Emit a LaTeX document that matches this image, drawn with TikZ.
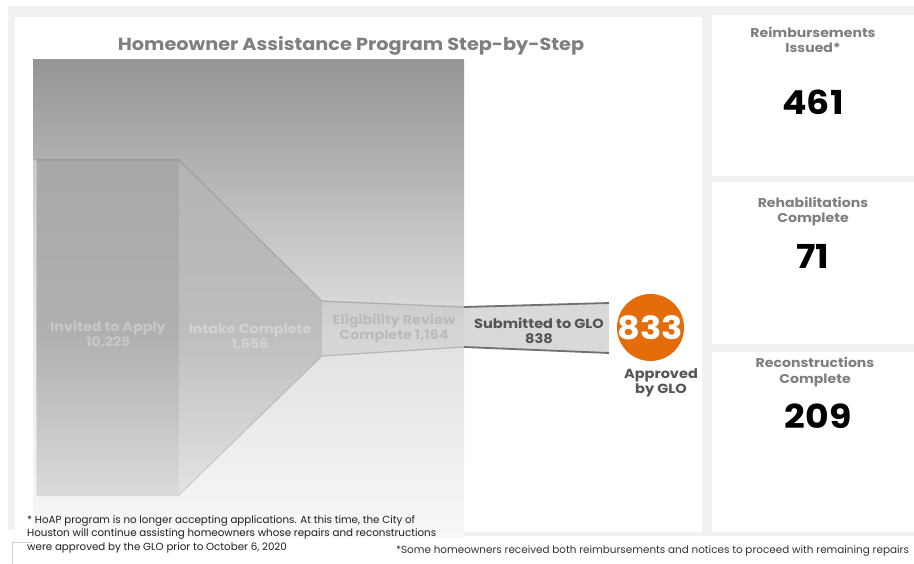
\documentclass[tikz,border=0pt]{standalone}
\usepackage{fontspec}
\setmainfont{Poppins}
\newfontfamily\wfont{Poppins}[FakeStretch=1.1]
\usetikzlibrary{calc}
\definecolor{bggray}{HTML}{F1F1F1}
\definecolor{gtop}{HTML}{959595}
\definecolor{gmid}{HTML}{E0E0E0}
\definecolor{gbot}{HTML}{F8F8F8}
\definecolor{labgray}{HTML}{7F7F7F}
\definecolor{darklab}{HTML}{555555}
\definecolor{orng}{HTML}{E46C0A}
\definecolor{segfill}{HTML}{D9D9D9}
\definecolor{segline}{HTML}{707070}
\definecolor{bxatop}{HTML}{A8A8A8}
\definecolor{bxamid}{HTML}{B0B0B0}
\definecolor{bxabot}{HTML}{DADADA}
\definecolor{bxbtop}{HTML}{B4B4B4}
\definecolor{bxbmid}{HTML}{BEBEBE}
\definecolor{bxbbot}{HTML}{E3E3E3}
\definecolor{txa}{HTML}{C7C7C7}
\definecolor{txb}{HTML}{D2D2D2}
\definecolor{txc}{HTML}{BBBBBB}
\tikzset{
  title/.style={font=\wfont\fontsize{17.5}{20}\selectfont\bfseries, text=labgray, inner sep=0pt},
  flab/.style={font=\wfont\fontsize{13}{15}\selectfont\bfseries, align=center, inner sep=0pt},
  darklabel/.style={font=\wfont\fontsize{13.2}{15}\selectfont\bfseries, text=darklab, align=center, inner sep=0pt},
  panellab/.style={font=\wfont\fontsize{12.8}{15.5}\selectfont\bfseries, text=labgray, align=center, inner sep=0pt},
  bignum/.style={font=\wfont\fontsize{33}{36}\selectfont\bfseries, text=black, inner sep=0pt},
  note/.style={font=\fontsize{10.3}{13.6}\selectfont, text=black!88, align=left, inner sep=0pt},
  panel/.style={fill=white, draw=none},
}
\begin{document}
\begin{tikzpicture}[x=1pt,y=-1pt]
\useasboundingbox (0,0) rectangle (914,564);
\fill[white] (0,0) rectangle (914,564);
% gray dashboard background
\fill[bggray] (8,6) rectangle (914,536);
\fill[white] (0,530) rectangle (33,564);
% main panel and side panels
\fill[panel] (15,17) rectangle (702,532);
\fill[panel] (712,15) rectangle (914,176);
\fill[panel] (712,182) rectangle (914,344);
\fill[panel] (712,352) rectangle (914,532);
% bottom strip outline
\draw[black!18, line width=0.8pt] (12,564) -- (12,542) -- (33,542);
% funnel gradient background
\shade[top color=gtop, bottom color=gmid] (33,60) rectangle (464,330.5);
\shade[top color=gmid, bottom color=gbot] (33,330) rectangle (464,537);
% box 1
\shade[top color=bxatop, bottom color=bxamid] (36,160) rectangle (179,335.5);
\shade[top color=bxamid, bottom color=bxabot] (36,335) rectangle (179,495);
\fill[white, fill opacity=0.3] (33,160) rectangle (37,495);
\draw[black, opacity=0.06, line width=1.5pt] (35,160) -- (179,160);
% box 2 (trapezoid)
\begin{scope}
\clip (179,160) -- (322,301) -- (322,356) -- (179,495) -- cycle;
\shade[top color=bxbtop, bottom color=bxbmid] (179,160) rectangle (322,335.5);
\shade[top color=bxbmid, bottom color=bxbbot] (179,335) rectangle (322,495);
\end{scope}
\draw[black, opacity=0.12, line width=1.2pt] (179,160) -- (322,301);
\draw[black, opacity=0.10, line width=1.2pt] (179,495) -- (322,356);
% segment 3
\fill[black, fill opacity=0.05] (322,301) -- (464,307) -- (464,347) -- (322,356) -- cycle;
\draw[black, opacity=0.16, line width=1.3pt] (322,301) -- (464,307);
\draw[black, opacity=0.16, line width=1.3pt] (322,356) -- (464,347);
% submitted segment
\fill[segfill] (464,307) -- (609,303) -- (609,353) -- (464,347) -- cycle;
\draw[segline, line width=1.8pt] (464,307) -- (609,303);
\draw[segline, line width=1.8pt] (464,347) -- (609,353);
% circle
\node[circle, fill=orng, minimum size=67pt, inner sep=0pt] (circ) at (650.5,327.5) {};
\node[font=\wfont\fontsize{32}{34}\selectfont\bfseries, text=white, inner sep=0pt] (n833) at (circ.center) {833};
% texts
\node[title] (ttl) at (351,45.5) {Homeowner Assistance Program Step-by-Step};
\node[flab, text=txa] (inv) at (108,334.5) {Invited to Apply\\10,229};
\node[flab, text=txb] (intk) at (250,337.5) {Intake Complete\\1,656};
\node[flab, text=txc] (elig) at (394,328.5) {Eligibility Review\\Complete 1,164};
\node[darklabel] (sub) at (539,330.5) {Submitted to GLO\\838};
\node[darklabel] (appr) at (661,382.5) {Approved\\by GLO};
\node[panellab] (reimb) at (813,40) {Reimbursements\\Issued*};
\node[bignum] (n461) at (813,102) {461};
\node[panellab] (rehab) at (813,211.5) {Rehabilitations\\Complete};
\node[bignum] (n71) at (813,256) {71};
\node[panellab] (recon) at (815,372) {Reconstructions\\Complete};
\node[bignum] (n209) at (818,416.5) {209};
\node[note, anchor=north west] (foot) at (27,515) {* HoAP program is no longer accepting applications. At this time, the City of\\Houston will continue assisting homeowners whose repairs and reconstructions\\were approved by the GLO prior to October 6, 2020};
\node[font=\fontsize{10.4}{12}\selectfont, text=black!80, inner sep=0pt] (some) at (652.5,551) {*Some homeowners received both reimbursements and notices to proceed with remaining repairs};
\end{tikzpicture}
\end{document}
